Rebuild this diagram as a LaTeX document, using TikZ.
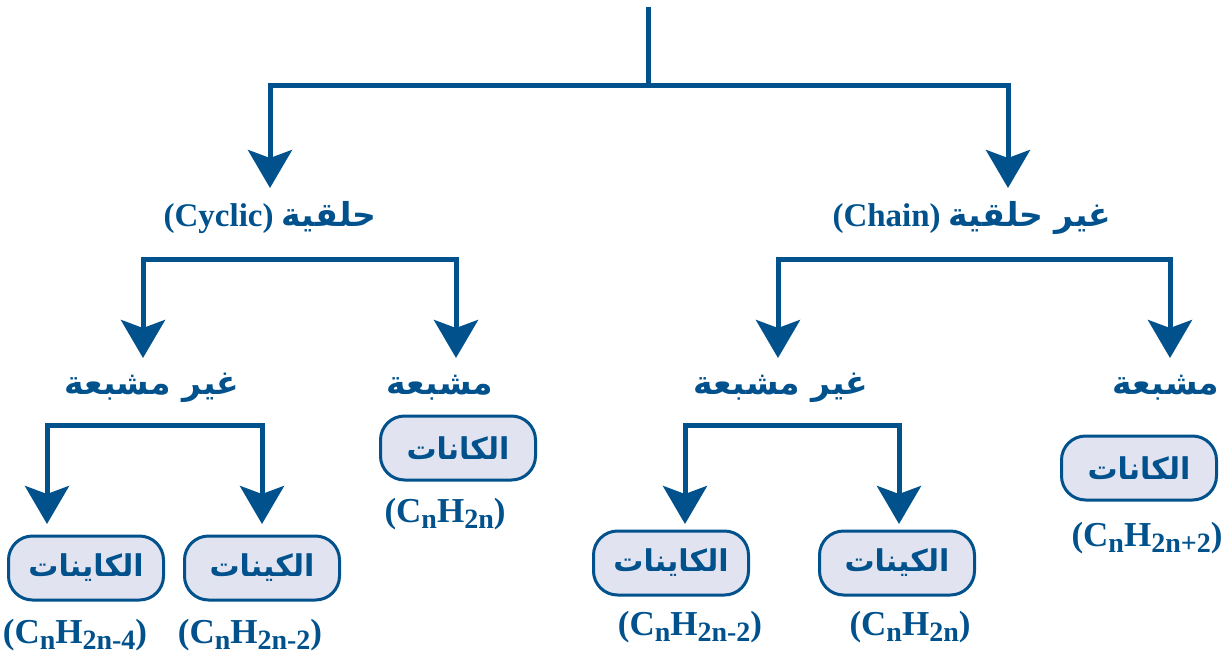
\documentclass[tikz,border=0pt]{standalone}
\usepackage{fontspec}
\setmainfont{Liberation Serif}
\newfontfamily\arabicfont[Script=Arabic]{DejaVu Sans}
\TeXXeTstate=1
\usetikzlibrary{arrows.meta}
\definecolor{dblue}{RGB}{0,81,140}
\definecolor{boxfill}{RGB}{225,227,240}
\newcommand{\ar}[1]{{\arabicfont\bfseries\beginR #1\endR}}
\newcommand{\sbs}[1]{\raisebox{-3pt}{\fontsize{14}{14}\selectfont #1}}
\newcommand{\frml}[1]{\textbf{(C\sbs{n}H\sbs{#1})}}
\begin{document}
\begin{tikzpicture}[x=.5pt,y=-.5pt,
	tip/.tip={Stealth[length=19pt,width=22pt,inset=4pt]},
	link/.style={draw=dblue,line width=2.5pt,tip-tip},
	trunk/.style={draw=dblue,line width=2.5pt},
	lbl/.style={text=dblue,font=\fontsize{16.5}{18}\selectfont\bfseries,inner sep=1pt},
	box/.style={draw=dblue,fill=boxfill,line width=1.5pt,rounded corners=12pt,
		minimum width=77.5pt,minimum height=32pt,text=dblue,font=\fontsize{15}{17}\selectfont},
	frm/.style={text=dblue,font=\fontsize{17.5}{19}\selectfont,inner sep=1pt}]
	\useasboundingbox (0,0) rectangle (1227,659);
	\path
	(648,7) coordinate (root) (648,85) coordinate (fork)
	(270,188) coordinate (cycTip) (1008,188) coordinate (chnTip)
	(300,259) coordinate (cycBar) (143,358) coordinate (cycUTip) (456,358) coordinate (cycSTip)
	(974,259) coordinate (chnBar) (778,358) coordinate (chnUTip) (1170,358) coordinate (chnSTip)
	(150,425) coordinate (cycUBar) (47,524) coordinate (cycYTip) (262,524) coordinate (cycETip)
	(790,425) coordinate (chnUBar) (685,524) coordinate (chnYTip) (899,524) coordinate (chnETip)
	;
	\draw[trunk] (root)--(fork);
	\foreach \a/\m/\b in {cycTip/fork/chnTip,cycUTip/cycBar/cycSTip,chnUTip/chnBar/chnSTip,
		cycYTip/cycUBar/cycETip,chnYTip/chnUBar/chnETip}
		\draw[link] (\a) |- (\m) -| (\b);
	\node[lbl] (cyc) at (270,218) {(Cyclic) \ar{حلقية}};
	\node[lbl] (chn) at (972,218) {(Chain) \ar{غير حلقية}};
	\node[lbl] (cycU) at (152,388) {\ar{غير مشبعة}};
	\node[lbl] (cycS) at (440,388) {\ar{مشبعة}};
	\node[lbl] (chnU) at (781,388) {\ar{غير مشبعة}};
	\node[lbl] (chnS) at (1166,388) {\ar{مشبعة}};
	\foreach \n/\x/\y/\t in {cycYne/86/568/الكاينات,cycEne/262/568/الكينات,cycAne/458/448/الكانات,
		chnYne/671/563/الكاينات,chnEne/897/563/الكينات,chnAne/1139/468/الكانات}
		\node[box] (\n) at (\x,\y) {\ar{\t}};
	\foreach \n/\x/\y/\s in {cycYneF/75/635/2n-4,cycEneF/250/635/2n-2,cycAneF/445/514/2n,
		chnYneF/690/627/2n-2,chnEneF/910/627/2n,chnAneF/1147/538/2n+2}
		\node[frm] (\n) at (\x,\y) {\frml{\s}};
\end{tikzpicture}
\end{document}
